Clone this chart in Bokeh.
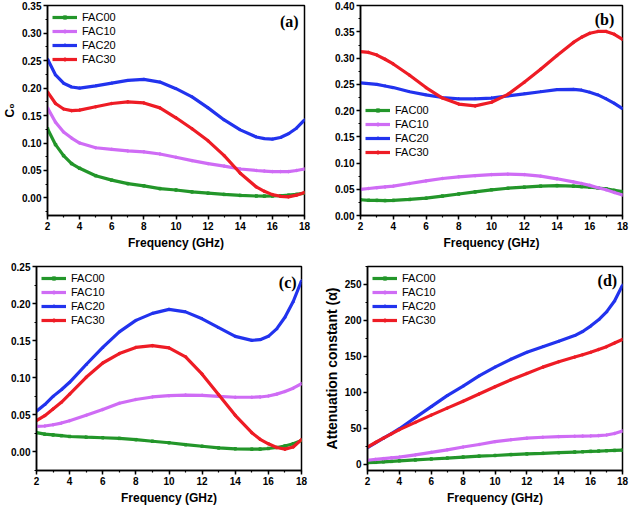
from math import pi
from bokeh.plotting import figure
from bokeh.layouts import column, row
from bokeh.models import (Range1d, SingleIntervalTicker, NumeralTickFormatter,
                          Legend, LegendItem, Label)
from bokeh.embed import file_html
from bokeh.resources import INLINE

# ---------------- data ----------------
freq = [2, 2.5, 3, 3.5, 4, 5, 6, 7, 8, 9, 10, 11, 12, 13, 14, 15, 15.5, 16, 16.5, 17, 17.5, 18]
series_names = ["FAC00", "FAC10", "FAC20", "FAC30"]

# (a) C0
a_fac00 = [0.126, 0.097, 0.077, 0.0625, 0.054, 0.0405, 0.0324, 0.026, 0.022, 0.017, 0.0145, 0.011,
           0.0087, 0.0064, 0.0046, 0.0035, 0.0033, 0.0035, 0.004, 0.005, 0.0065, 0.0087]
a_fac10 = [0.164, 0.138, 0.120, 0.109, 0.100, 0.0914, 0.0885, 0.0856, 0.0839, 0.080, 0.074, 0.068,
           0.0625, 0.058, 0.0527, 0.050, 0.049, 0.048, 0.048, 0.048, 0.050, 0.0527]
a_fac20 = [0.253, 0.224, 0.209, 0.202, 0.200, 0.204, 0.209, 0.214, 0.216, 0.211, 0.199, 0.184,
           0.164, 0.142, 0.124, 0.111, 0.108, 0.107, 0.110, 0.117, 0.127, 0.142]
a_fac30 = [0.193, 0.172, 0.162, 0.159, 0.160, 0.166, 0.172, 0.175, 0.173, 0.164, 0.146, 0.126,
           0.104, 0.077, 0.045, 0.020, 0.012, 0.006, 0.003, 0.002, 0.005, 0.010]

# (b) tan delta_epsilon
b_fac00 = [0.030, 0.029, 0.0288, 0.0285, 0.0288, 0.0306, 0.033, 0.037, 0.041, 0.045, 0.049, 0.052,
           0.054, 0.056, 0.057, 0.056, 0.055, 0.054, 0.0525, 0.051, 0.048, 0.0456]
b_fac10 = [0.050, 0.0515, 0.053, 0.0545, 0.056, 0.061, 0.066, 0.0706, 0.0738, 0.076, 0.078, 0.0788,
           0.078, 0.075, 0.070, 0.064, 0.061, 0.0575, 0.053, 0.049, 0.044, 0.039]
b_fac20 = [0.253, 0.2515, 0.250, 0.247, 0.244, 0.236, 0.230, 0.225, 0.2225, 0.2225, 0.224, 0.228,
           0.232, 0.236, 0.240, 0.2406, 0.239, 0.235, 0.230, 0.2225, 0.214, 0.204]
b_fac30 = [0.3125, 0.311, 0.306, 0.298, 0.289, 0.2675, 0.244, 0.224, 0.2125, 0.209, 0.216, 0.231,
           0.254, 0.279, 0.305, 0.330, 0.340, 0.3475, 0.351, 0.351, 0.3456, 0.336]

# (c) tan delta_mu
c_fac00 = [0.026, 0.024, 0.023, 0.022, 0.0209, 0.020, 0.0192, 0.0183, 0.0166, 0.0145, 0.0124, 0.0098,
           0.0077, 0.0055, 0.0043, 0.0038, 0.0039, 0.0047, 0.006, 0.0081, 0.011, 0.0154]
c_fac10 = [0.0346, 0.035, 0.0367, 0.039, 0.0422, 0.0495, 0.0572, 0.0657, 0.0708, 0.0742, 0.0759, 0.0768,
           0.0764, 0.0751, 0.0738, 0.0738, 0.0742, 0.0755, 0.078, 0.0815, 0.086, 0.0922]
c_fac20 = [0.055, 0.064, 0.075, 0.084, 0.094, 0.118, 0.141, 0.162, 0.1775, 0.187, 0.1924, 0.189,
           0.1796, 0.1677, 0.156, 0.1506, 0.1515, 0.156, 0.166, 0.1817, 0.203, 0.231]
c_fac30 = [0.0422, 0.049, 0.058, 0.067, 0.078, 0.1007, 0.120, 0.1327, 0.141, 0.1434, 0.1404, 0.1284,
           0.105, 0.0772, 0.0495, 0.026, 0.017, 0.011, 0.006, 0.0038, 0.0068, 0.0166]

# (d) attenuation constant
d_fac00 = [1.8, 2.4, 3.1, 3.7, 4.4, 5.7, 7.0, 8.3, 9.7, 11.0, 11.9, 13.2,
           14.1, 14.9, 15.8, 16.7, 17.1, 17.6, 18.0, 18.5, 18.9, 19.3]
d_fac10 = [5.3, 6.4, 7.5, 8.6, 9.7, 12.7, 16.3, 19.8, 23.7, 27.2, 31.2, 33.8,
           36.0, 37.3, 38.2, 38.7, 38.9, 39.1, 39.6, 40.4, 42.5, 46.1]
d_fac20 = [22.8, 29.5, 36.0, 42.5, 49.2, 64.6, 80.0, 95.3, 108.5, 122.6, 134.9, 145.9,
           155.5, 163.4, 170.9, 178.8, 184.5, 192.0, 200.8, 211.8, 227.0, 249.0]
d_fac30 = [23.7, 30.0, 36.0, 42.0, 47.9, 58.0, 68.1, 77.8, 87.4, 97.5, 107.6, 117.3,
           126.1, 134.9, 142.4, 148.9, 152.2, 155.5, 159.4, 163.4, 168.4, 173.5]

colors = ["#23962a", "#cf6cf5", "#2233ee", "#ee1c25"]
markers = ["square", "circle", "triangle", "circle"]

FONT = "Liberation Sans"


def make_panel(w, h, borders, yrange, yint, yfmt, ys, tag, tag_xy, ylabel=None, ylabel_size="12px"):
    left, right, top, bottom = borders
    p = figure(width=w, height=h, x_range=Range1d(2, 18), y_range=Range1d(*yrange),
               output_backend="svg", toolbar_location=None,
               min_border_left=left, min_border_right=right,
               min_border_top=top, min_border_bottom=bottom)
    p.grid.visible = False
    p.background_fill_color = "white"
    p.border_fill_color = "white"
    p.outline_line_color = "black"
    p.outline_line_width = 1.5
    p.outline_line_alpha = 1.0
    p.xaxis.ticker = SingleIntervalTicker(interval=2, num_minor_ticks=2)
    p.yaxis.ticker = SingleIntervalTicker(interval=yint, num_minor_ticks=2)
    p.yaxis.formatter = NumeralTickFormatter(format=yfmt)
    for ax in (p.xaxis, p.yaxis):
        ax.axis_line_width = 1.5
        ax.axis_line_color = "black"
        ax.major_tick_line_width = 1.5
        ax.major_tick_line_color = "black"
        ax.minor_tick_line_width = 1.2
        ax.minor_tick_line_color = "black"
        ax.major_tick_in = 0
        ax.major_tick_out = 4
        ax.minor_tick_in = 0
        ax.minor_tick_out = 2
        ax.major_label_text_font = FONT
        ax.major_label_text_font_style = "bold"
        ax.major_label_text_font_size = "10px"
        ax.major_label_text_color = "black"
        ax.major_label_standoff = 2
        ax.axis_label_text_font = FONT
        ax.axis_label_text_font_style = "bold"
        ax.axis_label_text_color = "black"
    p.xaxis.axis_label = "Frequency (GHz)"
    p.xaxis.axis_label_text_font_size = "12px"
    p.xaxis.axis_label_standoff = 3
    if ylabel:
        p.yaxis.axis_label = ylabel
        p.yaxis.axis_label_text_font_size = ylabel_size
        p.yaxis.axis_label_standoff = 2

    items = []
    for name, yv, c, m in zip(series_names, ys, colors, markers):
        ln = p.line(freq, yv, line_color=c, line_width=3.2)
        sc = p.scatter(freq, yv, marker=m, size=2.5, fill_color=c, line_color=c)
        items.append(LegendItem(label=name, renderers=[ln, sc]))

    p.add_layout(Label(x=tag_xy[0], y=tag_xy[1], text=tag, text_font="Liberation Serif",
                       text_font_style="bold", text_font_size="16px", text_align="center",
                       text_baseline="middle", text_color="black"))
    return p, items


def style_legend(leg):
    leg.background_fill_alpha = 0
    leg.border_line_alpha = 0
    leg.label_text_font = FONT
    leg.label_text_font_size = "11px"
    leg.label_text_color = "black"
    leg.glyph_width = 25
    leg.glyph_height = 8
    leg.label_height = 13
    leg.label_standoff = 5
    leg.spacing = 1
    leg.padding = 2
    leg.margin = 3


# (a)
pa, items_a = make_panel(320, 254, (38, 16, 5, 36), (-0.032, 0.3505), 0.05, "0.00",
                         [a_fac00, a_fac10, a_fac20, a_fac30], "(a)", (17.05, 0.321),
                         ylabel="C\u2080", ylabel_size="12px")
la = Legend(items=items_a, location="top_left")
style_legend(la)
pa.add_layout(la)

# (b)
pb, items_b = make_panel(310, 254, (40, 8, 5, 39), (0.0, 0.4005), 0.05, "0.00",
                         [b_fac00, b_fac10, b_fac20, b_fac30], "(b)", (16.9, 0.374))
lb = Legend(items=items_b, location=(3, 55))
style_legend(lb)
pb.add_layout(lb)
pb.add_layout(Label(x=-35, y=92, x_units="screen", y_units="screen", text="tan \u03b4",
                    angle=pi / 2, text_font=FONT, text_font_style="bold", text_font_size="10.5px",
                    text_align="left", text_baseline="middle", text_color="black"))
pb.add_layout(Label(x=-31, y=118, x_units="screen", y_units="screen", text="\u03b5",
                    angle=pi / 2, text_font=FONT, text_font_size="8px",
                    text_align="left", text_baseline="middle", text_color="black"))

# (c)
pc, items_c = make_panel(320, 253, (36, 19, 12, 35), (-0.025, 0.2502), 0.05, "0.00",
                         [c_fac00, c_fac10, c_fac20, c_fac30], "(c)", (17.17, 0.228))
lc = Legend(items=items_c, location="top_left")
style_legend(lc)
pc.add_layout(lc)
pc.add_layout(Label(x=-29, y=89, x_units="screen", y_units="screen", text="tan \u03b4",
                    angle=pi / 2, text_font=FONT, text_font_style="bold", text_font_size="10.5px",
                    text_align="left", text_baseline="middle", text_color="black"))
pc.add_layout(Label(x=-25, y=115, x_units="screen", y_units="screen", text="\u03bc",
                    angle=pi / 2, text_font=FONT, text_font_size="8px",
                    text_align="left", text_baseline="middle", text_color="black"))

# (d)
pd_, items_d = make_panel(310, 253, (39, 8, 11, 35), (-9, 275), 50, "0",
                          [d_fac00, d_fac10, d_fac20, d_fac30], "(d)", (17.05, 255.7),
                          ylabel="Attenuation constant (\u03b1)", ylabel_size="14px")
ld = Legend(items=items_d, location="top_left")
style_legend(ld)
pd_.add_layout(ld)

layout = column(row(pa, pb), row(pc, pd_))

with open("out.html", "w") as f:
    f.write(file_html(layout, INLINE))
